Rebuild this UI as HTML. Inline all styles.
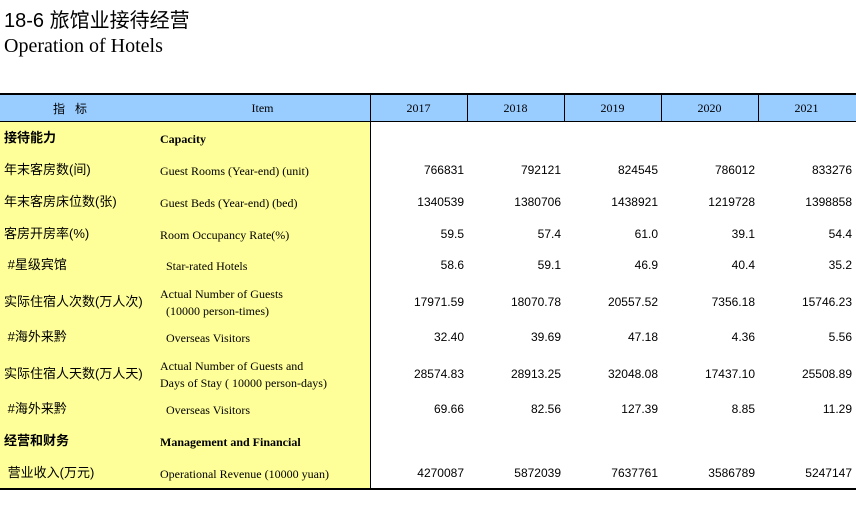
<!DOCTYPE html>
<html><head><meta charset="utf-8"><style>
body{margin:0;width:856px;height:516px;background:#fff;position:relative;overflow:hidden}
.a{position:absolute;white-space:nowrap}
.t1{left:4px;top:4px;font:20px "Liberation Sans","Noto Sans CJK SC",sans-serif;color:#000}
.t2{left:4px;top:35px;font:20px "Liberation Serif",serif;color:#000}
.cn{font:13px "Liberation Sans","Noto Sans CJK SC",sans-serif;left:4px;line-height:16px}
.en{font:12px "Liberation Serif",serif;left:160px;line-height:17px}
.num{font:12px "Liberation Sans",sans-serif;text-align:right}
.hd{font:12px "Liberation Serif",serif;text-align:center;top:101px}
b{font-weight:bold}
</style></head><body>
<div class="a t1">18-6 旅馆业接待经营</div>
<div class="a t2">Operation of Hotels</div>
<div class="a" style="left:0;top:95px;width:856px;height:27px;background:#99ccff"></div>
<div class="a" style="left:0;top:122px;width:370px;height:367px;background:#ffff99"></div>
<div class="a" style="left:0;top:93px;width:856px;height:2px;background:#000"></div>
<div class="a" style="left:0;top:121px;width:856px;height:1px;background:#000"></div>
<div class="a" style="left:0;top:488px;width:856px;height:2px;background:#000"></div>
<div class="a" style="left:370px;top:95px;width:1px;height:394px;background:#000"></div>
<div class="a hd" style="left:0;width:140px;font-family:'Liberation Sans','Noto Sans CJK SC',sans-serif;top:100px">指&nbsp;&nbsp;&nbsp;标</div>
<div class="a hd" style="left:160px;width:205px">Item</div>
<div id="tbl"></div>
<script>
const years=["2017","2018","2019","2020","2021"];
const cnLabels=["接待能力","年末客房数(间)","年末客房床位数(张)","客房开房率(%)","&nbsp;#星级宾馆","实际住宿人次数(万人次)","&nbsp;#海外来黔","实际住宿人天数(万人天)","&nbsp;#海外来黔","经营和财务","&nbsp;营业收入(万元)"];
const enLabels=["Capacity","Guest Rooms (Year-end) (unit)","Guest Beds (Year-end) (bed)","Room Occupancy Rate(%)","&nbsp;&nbsp;Star-rated Hotels","Actual Number of Guests<br>&nbsp;&nbsp;(10000 person-times)","&nbsp;&nbsp;Overseas Visitors","Actual Number of Guests and<br>Days of Stay ( 10000 person-days)","&nbsp;&nbsp;Overseas Visitors","Management and Financial","Operational Revenue (10000 yuan)"];
const v2017=["","766831","1340539","59.5","58.6","17971.59","32.40","28574.83","69.66","","4270087"];
const v2018=["","792121","1380706","57.4","59.1","18070.78","39.69","28913.25","82.56","","5872039"];
const v2019=["","824545","1438921","61.0","46.9","20557.52","47.18","32048.08","127.39","","7637761"];
const v2020=["","786012","1219728","39.1","40.4","7356.18","4.36","17437.10","8.85","","3586789"];
const v2021=["","833276","1398858","54.4","35.2","15746.23","5.56","25508.89","11.29","","5247147"];
const series=[v2017,v2018,v2019,v2020,v2021];
const rowY=[139,171,203,235,266,303,338,375,410,442,474];
const bold=[true,false,false,false,false,false,false,false,false,true,false];
const colL=[370,467,564,661,758],colW=97;
const T=document.getElementById('tbl');
function mk(cls,html,style){const d=document.createElement('div');d.className='a '+cls;d.innerHTML=html;d.style.cssText=style;T.appendChild(d);return d;}
years.forEach((y,i)=>{
 const h=mk('hd',y,`left:${colL[i]}px;width:${colW}px`);
 
 
 if(i>0){const l=mk('','',`left:${colL[i]}px;top:95px;width:1px;height:27px;background:#000`);
 
 }
});
cnLabels.forEach((c,r)=>{
 const y=rowY[r];
 const a=mk('cn',bold[r]?'<b>'+c+'</b>':c,`top:${y-9}px`);
 
 
 const two=enLabels[r].includes('<br>');
 const b=mk('en',bold[r]?'<b>'+enLabels[r]+'</b>':enLabels[r],`top:${two?y-17:y-8}px`);
 
 
 series.forEach((s,i)=>{
  if(!s[r])return;
  const n=mk('num',s[r],`left:${colL[i]}px;width:${colW-3}px;top:${y-8}px`);
  
  
 });
});
</script>
</body></html>
